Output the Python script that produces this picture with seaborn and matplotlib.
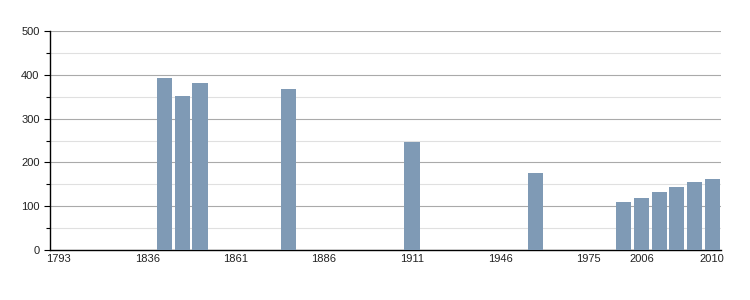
import matplotlib
matplotlib.use("Agg")
import matplotlib.pyplot as plt
import seaborn as sns
import numpy as np
import pandas as pd
from matplotlib.ticker import MultipleLocator

years = ["1793", "1800", "1806", "1821", "1831", "1836", "1841", "1846", "1851", "1856",
         "1861", "1866", "1872", "1876", "1881", "1886", "1891", "1896", "1901", "1906",
         "1911", "1921", "1926", "1931", "1936", "1946", "1954", "1962", "1968", "1972",
         "1975", "1982", "1999", "2006", "2007", "2008", "2009", "2010"]
population = [np.nan, np.nan, np.nan, np.nan, np.nan, np.nan, 393, 352, 381, np.nan,
              np.nan, np.nan, np.nan, 368, np.nan, np.nan, np.nan, np.nan, np.nan, np.nan,
              247, np.nan, np.nan, np.nan, np.nan, np.nan, np.nan, 176, np.nan, np.nan,
              np.nan, np.nan, 110, 119, 132, 144, 155, 161]
tick_labels = ["1793", "1836", "1861", "1886", "1911", "1946", "1975", "2006", "2010"]

df = pd.DataFrame({"year": years, "population": population})

sns.set_style("white")
plt.rcParams["font.family"] = ["Liberation Sans", "DejaVu Sans"]

fig = plt.figure(figsize=(7.5, 3), dpi=100)
ax = fig.add_axes([50 / 750, 50 / 300, 671 / 750, 219 / 300])

sns.barplot(data=df, x="year", y="population", order=years, color="#7f9ab5",
            saturation=1, width=0.86, linewidth=0, edgecolor="none", ax=ax, zorder=3)

ax.set_xlim(-0.5, len(years) - 0.5)
ax.set_ylim(0, 500)
ax.yaxis.set_major_locator(MultipleLocator(100))
ax.yaxis.set_minor_locator(MultipleLocator(50))
ax.grid(axis="y", which="major", color="#aaaaaa", linewidth=0.8, zorder=0)
ax.grid(axis="y", which="minor", color="#e0e0e0", linewidth=0.8, zorder=0)
ax.set_axisbelow(True)

ax.set_xticks([years.index(t) for t in tick_labels])
ax.set_xticklabels(tick_labels)
ax.tick_params(axis="x", length=0, labelsize=8, pad=3, colors="#222222")
ax.tick_params(axis="y", which="major", length=4, direction="out", labelsize=8,
               left=True, width=0.8, labelcolor="#222222", color="black")
ax.tick_params(axis="y", which="minor", length=3, direction="out", left=True, width=0.8,
               color="black")

ax.set_xlabel("")
ax.set_ylabel("")
for s in ["top", "right"]:
    ax.spines[s].set_visible(False)
for s in ["left", "bottom"]:
    ax.spines[s].set_color("black")
    ax.spines[s].set_linewidth(1)

fig.savefig("out.png", dpi=100)
